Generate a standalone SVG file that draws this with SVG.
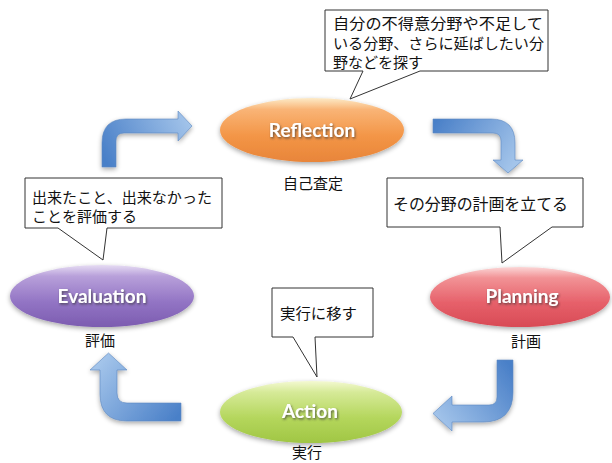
<svg xmlns="http://www.w3.org/2000/svg" width="612" height="463" viewBox="0 0 612 463">
<defs>
<style>
.call{fill:#fff;stroke:#333;stroke-width:1}
.jp{font-family:"Noto Sans CJK JP","Noto Sans CJK SC",sans-serif;font-size:15px;fill:#111}
.jl{font-family:"Noto Sans CJK JP","Noto Sans CJK SC",sans-serif;font-size:15px;fill:#111;text-anchor:middle}
.en{font-family:Lato,"Open Sans",sans-serif;font-weight:bold;font-size:19px;fill:#fff;text-anchor:middle}
</style>
<filter id="sh" x="-20%" y="-30%" width="140%" height="170%">
<feGaussianBlur in="SourceAlpha" stdDeviation="2.5"/>
<feOffset dy="2" result="b"/>
<feComponentTransfer><feFuncA type="linear" slope="0.35"/></feComponentTransfer>
<feMerge><feMergeNode/><feMergeNode in="SourceGraphic"/></feMerge>
</filter>
<filter id="ts" x="-10%" y="-30%" width="120%" height="160%">
<feDropShadow dx="1" dy="1.5" stdDeviation="0.8" flood-color="#333" flood-opacity="0.7"/>
</filter>
<linearGradient id="gR" x1="0" y1="0" x2="0" y2="1">
<stop offset="0" stop-color="#fdebc8"/><stop offset="0.18" stop-color="#f9b476"/><stop offset="0.6" stop-color="#f39546"/><stop offset="1" stop-color="#e8853a"/>
</linearGradient>
<linearGradient id="gE" x1="0" y1="0" x2="0" y2="1">
<stop offset="0" stop-color="#e6dcf3"/><stop offset="0.18" stop-color="#b8a0da"/><stop offset="0.6" stop-color="#9274c4"/><stop offset="1" stop-color="#7c5cb0"/>
</linearGradient>
<linearGradient id="gP" x1="0" y1="0" x2="0" y2="1">
<stop offset="0" stop-color="#fbd6d6"/><stop offset="0.18" stop-color="#f29396"/><stop offset="0.6" stop-color="#e6606a"/><stop offset="1" stop-color="#d84a55"/>
</linearGradient>
<linearGradient id="gA" x1="0" y1="0" x2="0" y2="1">
<stop offset="0" stop-color="#f4f9d2"/><stop offset="0.18" stop-color="#d6ea98"/><stop offset="0.6" stop-color="#b4d65c"/><stop offset="1" stop-color="#a0c644"/>
</linearGradient>
<linearGradient id="aTL" gradientUnits="userSpaceOnUse" x1="109" y1="167" x2="192" y2="126">
<stop offset="0" stop-color="#4a80c8"/><stop offset="1" stop-color="#a3c4ea"/>
</linearGradient>
<linearGradient id="aTR" gradientUnits="userSpaceOnUse" x1="433" y1="126" x2="508" y2="173">
<stop offset="0" stop-color="#4a80c8"/><stop offset="1" stop-color="#a3c4ea"/>
</linearGradient>
<linearGradient id="aBR" gradientUnits="userSpaceOnUse" x1="505" y1="360" x2="433" y2="414">
<stop offset="0" stop-color="#4a80c8"/><stop offset="1" stop-color="#a3c4ea"/>
</linearGradient>
<linearGradient id="aBL" gradientUnits="userSpaceOnUse" x1="181" y1="412" x2="108" y2="353">
<stop offset="0" stop-color="#4a80c8"/><stop offset="1" stop-color="#a3c4ea"/>
</linearGradient>
</defs>
<rect width="612" height="463" fill="#fff"/>

<g id="connectors" filter="url(#sh)" stroke="#5a86c0" stroke-width="0.6">
<path d="M102,167 L102,143 Q102,119 126,119 L178,119 L178,111 L192,126 L178,141 L178,133 L124,133 Q116,133 116,141 L116,167 Z" fill="url(#aTL)"/>
<path d="M433,119 L491,119 Q515,119 515,143 L515,160 L523,160 L508,173 L493,160 L501,160 L501,141 Q501,133 493,133 L433,133 Z" fill="url(#aTR)"/>
<path d="M497,360 L513,360 L513,392 Q513,422 483,422 L452,422 L452,431 L433,413.5 L452,396 L452,405 L489,405 Q497,405 497,397 Z" fill="url(#aBR)"/>
<path d="M181,403 L127,403 Q117,403 117,393 L117,370 L127,370 L108.5,353 L90,370 L100,370 L100,394 Q100,421 127,421 L181,421 Z" fill="url(#aBL)"/>
</g>

<g id="reflection">
<ellipse cx="312" cy="130" rx="92" ry="32" fill="url(#gR)" filter="url(#sh)"/>
<text class="en" x="312" y="137" filter="url(#ts)">Reflection</text>
<text class="jl" x="313" y="189">自己査定</text>
</g>
<g id="planning">
<ellipse cx="520" cy="297" rx="90" ry="30" fill="url(#gP)" filter="url(#sh)"/>
<text class="en" x="522" y="303" filter="url(#ts)">Planning</text>
<text class="jl" x="526" y="347">計画</text>
</g>
<g id="action">
<ellipse cx="311" cy="412" rx="91" ry="31" fill="url(#gA)" filter="url(#sh)"/>
<text class="en" x="310" y="418" filter="url(#ts)">Action</text>
<text class="jl" x="307" y="458">実行</text>
</g>
<g id="evaluation">
<ellipse cx="102" cy="296" rx="92" ry="31" fill="url(#gE)" filter="url(#sh)"/>
<text class="en" x="102" y="303" filter="url(#ts)">Evaluation</text>
<text class="jl" x="100" y="346">評価</text>
</g>

<g id="callout-reflection">
<path class="call" d="M325,10 L548,10 L548,71 L420,71 L350,99 L363,71 L325,71 Z"/>
<text class="jp" x="333" y="29" textLength="210" lengthAdjust="spacingAndGlyphs">自分の不得意分野や不足して</text>
<text class="jp" x="333" y="49" textLength="211" lengthAdjust="spacingAndGlyphs">いる分野、さらに延ばしたい分</text>
<text class="jp" x="333" y="68" textLength="90" lengthAdjust="spacingAndGlyphs">野などを探す</text>
</g>
<g id="callout-planning">
<path class="call" d="M387,178 L583,178 L583,227 L552,227 L502,263 L500,227 L387,227 Z"/>
<text class="jp" x="393" y="210" style="font-size:16px" textLength="175" lengthAdjust="spacingAndGlyphs">その分野の計画を立てる</text>
</g>
<g id="callout-action">
<path class="call" d="M272,288 L373,288 L373,337 L315,337 L317,377 L293,337 L272,337 Z"/>
<text class="jp" x="280" y="319" textLength="77" lengthAdjust="spacingAndGlyphs">実行に移す</text>
</g>
<g id="callout-evaluation">
<path class="call" d="M25,178 L222,178 L222,228 L107,228 L103,260 L58,228 L25,228 Z"/>
<text class="jp" x="32" y="203" textLength="180" lengthAdjust="spacingAndGlyphs">出来たこと、出来なかった</text>
<text class="jp" x="32" y="222" textLength="105" lengthAdjust="spacingAndGlyphs">ことを評価する</text>
</g>
</svg>
